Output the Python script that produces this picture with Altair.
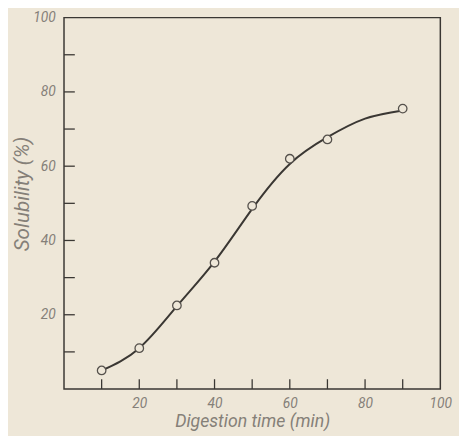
import altair as alt
import pandas as pd

# Measured points (digestion time in min, solubility in %)
point_time = [10, 20, 30, 40, 50, 60, 70, 90]
point_sol = [5, 11, 22.5, 34, 49.3, 62, 67.2, 75.5]

# Smooth fitted curve
curve_time = [10, 20, 30, 40, 50, 60, 70, 80, 90]
curve_sol = [5, 11, 22.3, 34.3, 48.5, 60.6, 67.8, 72.8, 75]

tick_values = [10, 20, 30, 40, 50, 60, 70, 80, 90]
label_values = [20, 40, 60, 80, 100]

BG = "#eee7d8"
INK = "#3a3733"
TXT = "#858078"
FONT = "Roboto"

W, H = 383, 378

pts = pd.DataFrame({"t": point_time, "s": point_sol})
crv = pd.DataFrame({"t": curve_time, "s": curve_sol})
ticks = pd.DataFrame({"v": tick_values})

xs = alt.Scale(domain=[0, 100], nice=False, zero=False)
ys = alt.Scale(domain=[0, 100], nice=False, zero=False)

xaxis = alt.Axis(values=label_values, tickSize=0, domain=False, grid=False,
                 labelPadding=8, labelFont=FONT, labelFontSize=14,
                 labelFontStyle="italic", labelColor=TXT, labelFlush=False,
                 title="Digestion time (min)", titleFont=FONT, titleFontSize=18,
                 titleFontStyle="italic", titleFontWeight="normal",
                 titleColor=TXT, titlePadding=2)
yaxis = alt.Axis(values=label_values, tickSize=0, domain=False, grid=False,
                 labelPadding=9, labelFont=FONT, labelFontSize=14,
                 labelFontStyle="italic", labelColor=TXT, labelFlush=False,
                 title="Solubility (%)", titleFont=FONT, titleFontSize=21,
                 titleFontStyle="italic", titleFontWeight="normal",
                 titleColor=TXT, titleX=-32, titleY=H / 2 - 10,
                 titleBaseline="bottom")

line = alt.Chart(crv).mark_line(interpolate="natural", color=INK,
                                strokeWidth=2).encode(
    x=alt.X("t:Q", scale=xs, axis=xaxis),
    y=alt.Y("s:Q", scale=ys, axis=yaxis),
)

points = alt.Chart(pts).mark_point(shape="circle", size=75, filled=True,
                                   fill=BG, stroke="#55514c",
                                   strokeWidth=1.3, opacity=1).encode(
    x=alt.X("t:Q", scale=xs),
    y=alt.Y("s:Q", scale=ys),
)

xticks = alt.Chart(ticks).mark_rule(color=INK, strokeWidth=1.3).encode(
    x=alt.X("v:Q", scale=xs),
    y=alt.value(H),
    y2=alt.value(H - 10),
)
yticks = alt.Chart(ticks).mark_rule(color=INK, strokeWidth=1.3).encode(
    y=alt.Y("v:Q", scale=ys),
    x=alt.value(0),
    x2=alt.value(11),
)

chart = alt.layer(xticks, yticks, line, points).properties(
    width=W, height=H,
    background=BG,
    autosize=alt.AutoSizeParams(type="none"),
    padding={"left": 57, "top": 6, "right": 19, "bottom": 44},
).configure_view(stroke=INK, strokeWidth=1.5)

chart.save("out.html", embed_options={"renderer": "svg", "actions": False})
